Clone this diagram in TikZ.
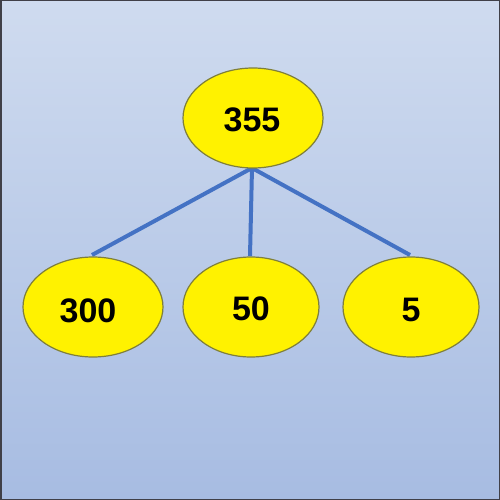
\documentclass[tikz,border=0pt]{standalone}
\usepackage{fontspec}
\setmainfont{Liberation Sans}
\usetikzlibrary{shapes.geometric}
\definecolor{bgtop}{HTML}{CFDBEF}
\definecolor{bgbot}{HTML}{A7BCE2}
\definecolor{edgeblue}{HTML}{4472C4}
\definecolor{ellline}{HTML}{7F7F3A}
\definecolor{frame}{HTML}{404048}
\begin{document}
\begin{tikzpicture}[x=1pt,y=-1pt,
  numnode/.style={ellipse,draw=ellline,line width=1.2pt,fill=yellow,
    minimum width=#1,minimum height=100pt,inner sep=0pt,
    font=\fontsize{34}{34}\selectfont\bfseries},
  numnode/.default=140pt,
  edge/.style={draw=edgeblue,line width=4pt}]
\useasboundingbox (0,0) rectangle (500,500);
\shade[top color=bgtop,bottom color=bgbot] (0,0) rectangle (500,500);
\draw[frame,line width=1.5pt] (0.75,0.75) rectangle (499.25,499.25);
\coordinate (tb) at (252,168);
\coordinate (le) at (92,255);
\coordinate (me) at (250,256);
\coordinate (re) at (410,255);
\draw[edge] (le) -- (tb) -- (re);
\draw[edge] (tb) -- (me);
\node[numnode] (n355) at (253,118) {};
\node[numnode] (n300) at (93,307) {};
\node[numnode=136pt] (n50) at (251,307) {};
\node[numnode=136pt] (n5) at (411,307) {};
\node[font=\fontsize{34}{34}\selectfont\bfseries] (t355) at (252,120) {355};
\node[font=\fontsize{34}{34}\selectfont\bfseries] (t300) at (88,311) {300};
\node[font=\fontsize{34}{34}\selectfont\bfseries] (t50) at (251,309) {50};
\node[font=\fontsize{34}{34}\selectfont\bfseries] (t5) at (411,310) {5};
\end{tikzpicture}
\end{document}
